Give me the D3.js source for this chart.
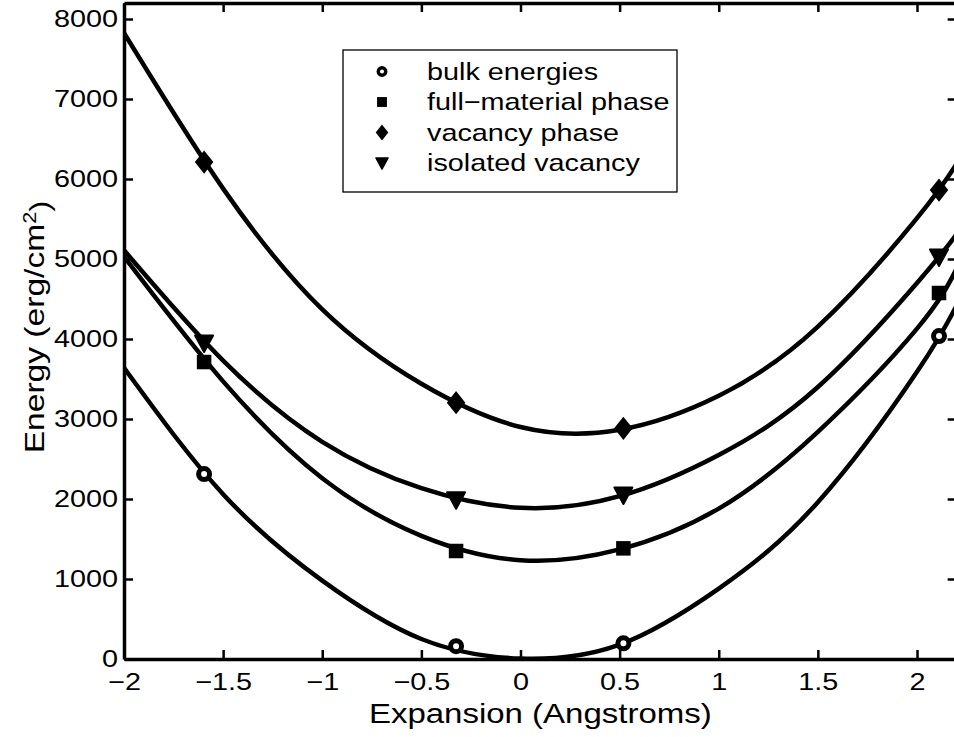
<!DOCTYPE html>
<html>
<head>
<meta charset="utf-8">
<script src="https://cdn.jsdelivr.net/npm/d3@7"></script>
<style>
  body { margin: 0; background: #fff; }
  svg { display: block; font-family: "Liberation Sans", Arial, sans-serif; }
</style>
</head>
<body>
<div id="container"></div>
<script>
// fitted curves at regular x positions
const curveX = [-2, -1.5, -1, -0.5, 0, 0.5, 1, 1.5, 2, 2.2];
const bulkCurve = [3640, 2060, 980, 250, 5, 180, 880, 1960, 3590, 4420];
const fullCurve = [5030, 3470, 2260, 1540, 1235, 1370, 1880, 2840, 4130, 4880];
const vacancyCurve = [7825, 5880, 4370, 3440, 2900, 2865, 3290, 4155, 5510, 6190];
const isolatedCurve = [5110, 3730, 2715, 2135, 1890, 2035, 2550, 3400, 4700, 5310];

// computed points (markers)
const markerX = [-1.596, -0.325, 0.519, 2.111];
const bulkPts = [2312, 160, 196, 4037];
const fullPts = [3712, 1350, 1383, 4575];
const vacancyPts = [6212, 3204, 2883, 5862];
const isolatedPts = [3950, 1990, 2050, 5025];

const seriesNames = ["bulk energies", "full\u2212material phase", "vacancy phase", "isolated vacancy"];
const markerTypes = ["circle", "square", "diamond", "triangle"];

const xTicks = [-2, -1.5, -1, -0.5, 0, 0.5, 1, 1.5, 2];
const yTicks = [0, 1000, 2000, 3000, 4000, 5000, 6000, 7000, 8000];

const width = 954;
const height = 737;
const SX = 1.2; // the scanned font is wider than Helvetica

const svg = d3.select("#container")
  .append("svg")
  .attr("width", width)
  .attr("height", height);

const x = d3.scaleLinear().domain([-2, 2.2]).range([124, 956.65]);
const y = d3.scaleLinear().domain([0, 8200]).range([659, 3]);

svg.append("clipPath").attr("id", "plotClip")
  .append("rect")
  .attr("x", x(-2)).attr("y", y(8200))
  .attr("width", x(2.2) - x(-2)).attr("height", y(0) - y(8200));

// curves
const series = [
  { curve: bulkCurve, pts: bulkPts },
  { curve: fullCurve, pts: fullPts },
  { curve: vacancyCurve, pts: vacancyPts },
  { curve: isolatedCurve, pts: isolatedPts }
];

const line = d3.line()
  .x((d, i) => x(curveX[i]))
  .y(d => y(d))
  .curve(d3.curveNatural);

const curves = svg.append("g").attr("clip-path", "url(#plotClip)");
series.forEach(s => {
  curves.append("path")
    .datum(s.curve)
    .attr("fill", "none")
    .attr("stroke", "black")
    .attr("stroke-width", 4.5)
    .attr("d", line);
});

function drawMarker(g, type, cx, cy, s) {
  if (type === "circle") {
    g.append("circle")
      .attr("cx", cx).attr("cy", cy).attr("r", 5.5 * s)
      .attr("fill", "white").attr("stroke", "black").attr("stroke-width", 5 * s);
  } else if (type === "square") {
    g.append("rect")
      .attr("x", cx - 5.5 * s).attr("y", cy - 5.5 * s)
      .attr("width", 11 * s).attr("height", 11 * s)
      .attr("fill", "black").attr("stroke", "black").attr("stroke-width", 3.5 * s);
  } else if (type === "diamond") {
    const p = [[0, -10], [8, 0], [0, 10], [-8, 0]].map(d => [cx + d[0] * s, cy + d[1] * s]);
    g.append("path")
      .attr("d", "M" + p.join("L") + "Z")
      .attr("fill", "black").attr("stroke", "black").attr("stroke-width", 2 * s);
  } else {
    const p = [[-9, -7.5], [9, -7.5], [0, 9]].map(d => [cx + d[0] * s, cy + d[1] * s]);
    g.append("path")
      .attr("d", "M" + p.join("L") + "Z")
      .attr("fill", "black").attr("stroke", "black").attr("stroke-width", 2 * s)
      .attr("stroke-linejoin", "round");
  }
}

const markers = svg.append("g");
series.forEach((s, k) => {
  s.pts.forEach((v, i) => drawMarker(markers, markerTypes[k], x(markerX[i]), y(v), 1));
});

// axes (box with inward ticks)
const axisStyle = g => {
  g.select(".domain").attr("stroke-width", 3.5);
  g.selectAll(".tick line").attr("stroke-width", 2.5);
  g.selectAll("text").attr("font-size", 24).attr("fill", "black")
    .attr("font-family", "'Liberation Sans', Arial, sans-serif");
};

svg.append("g")
  .attr("transform", `translate(0,${y(0)})`)
  .call(d3.axisBottom(x).tickValues(xTicks).tickFormat(d3.format(""))
    .tickSizeInner(-9).tickSizeOuter(0).tickPadding(14))
  .call(axisStyle)
  .call(g => g.selectAll("text").attr("transform", `scale(${SX},1)`));

svg.append("g")
  .attr("transform", `translate(0,${y(8200)})`)
  .call(d3.axisTop(x).tickValues(xTicks).tickSizeInner(-9).tickSizeOuter(0).tickFormat(""))
  .call(axisStyle);

svg.append("g")
  .attr("transform", `translate(${x(-2)},0)`)
  .call(d3.axisLeft(y).tickValues(yTicks).tickFormat(d3.format("d"))
    .tickSizeInner(-9).tickSizeOuter(0).tickPadding(6))
  .call(axisStyle)
  .call(g => g.selectAll("text").attr("x", -6 / SX).attr("transform", `scale(${SX},1)`));

svg.append("g")
  .attr("transform", `translate(${x(2.2)},0)`)
  .call(d3.axisRight(y).tickValues(yTicks).tickSizeInner(-9).tickSizeOuter(0).tickFormat(""))
  .call(axisStyle);

// axis labels
svg.append("text")
  .attr("transform", `translate(${(x(-2) + x(2.2)) / 2},723) scale(${SX},1)`)
  .attr("text-anchor", "middle")
  .style("font-size", "27.5px")
  .text("Expansion (Angstroms)");

const yLabel = svg.append("text")
  .attr("transform", `translate(44,${(y(0) + y(8200)) / 2 - 4}) rotate(-90) scale(${SX},1)`)
  .attr("text-anchor", "middle")
  .style("font-size", "28px");
yLabel.append("tspan").text("Energy (erg/cm");
yLabel.append("tspan").attr("dy", "-0.45em").style("font-size", "18px").text("2");
yLabel.append("tspan").attr("dy", "0.45em").text(")");

// legend
const legend = svg.append("g");
legend.append("rect")
  .attr("x", 343).attr("y", 50)
  .attr("width", 334).attr("height", 142)
  .attr("fill", "white")
  .attr("stroke", "black")
  .attr("stroke-width", 1.3);

seriesNames.forEach((name, i) => {
  const cy = 71.5 + i * 30.5;
  drawMarker(legend, markerTypes[i], 382, cy, 0.68);
  legend.append("text")
    .attr("x", 427 / SX)
    .attr("y", cy + 8.5)
    .attr("transform", `scale(${SX},1)`)
    .style("font-size", "24px")
    .text(name);
});
</script>
</body>
</html>
